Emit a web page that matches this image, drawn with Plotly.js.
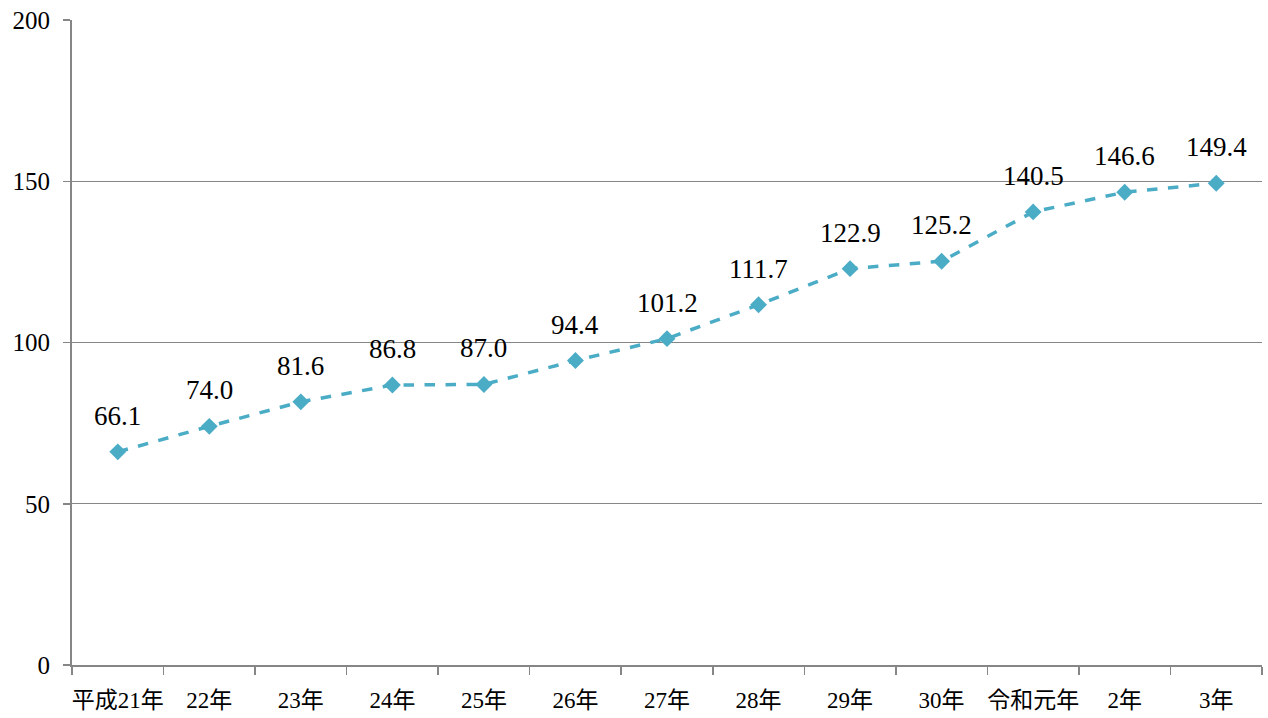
<!DOCTYPE html>
<html><head><meta charset="utf-8">
<script src="https://cdn.plot.ly/plotly-3.0.1.min.js"></script>
<style>html,body{margin:0;padding:0;background:#fff;}#chart{width:1268px;height:718px;}</style>
</head><body><div id="chart"></div>
<script>
const categories = ["平成21年","22年","23年","24年","25年","26年","27年","28年","29年","30年","令和元年","2年","3年"];
const values = [66.1,74.0,81.6,86.8,87.0,94.4,101.2,111.7,122.9,125.2,140.5,146.6,149.4];
const yTicks = [0,50,100,150,200];

const FONT = "Liberation Serif, DejaVu Serif, serif";
const FONT2 = "Liberation Serif, Noto Sans CJK JP";
const grey = "#868686";

const trace = {
  x: categories, y: values, type: "scatter", mode: "lines+markers",
  line: {color: "#4BACC6", width: 3.5, dash: "dash"},
  marker: {symbol: "diamond", size: 13, color: "#4BACC6"},
  hoverinfo: "none"
};

const annotations = categories.map((c, i) => ({
  x: c, y: values[i], xref: "x", yref: "y",
  text: values[i].toFixed(1), showarrow: false,
  yanchor: "middle", yshift: 36,
  font: {family: FONT, size: 27, color: "#000"}
}));

const layout = {
  width: 1268, height: 718,
  margin: {l: 72, r: 6, t: 20, b: 53},
  paper_bgcolor: "#fff", plot_bgcolor: "#fff",
  showlegend: false,
  xaxis: {
    type: "category", tickson: "boundaries", tickangle: 0,
    showline: true, linecolor: grey, linewidth: 2,
    ticks: "outside", ticklen: 8, tickcolor: grey, tickwidth: 1.5,
    showgrid: false, zeroline: false,
    tickfont: {family: FONT2, size: 23, color: "#000"},
    ticklabelstandoff: 13,
    range: [-0.5, 12.5]
  },
  yaxis: {
    range: [0, 200], tickvals: yTicks, ticktext: yTicks.map(String),
    showline: true, linecolor: grey, linewidth: 2,
    ticks: "outside", ticklen: 7, tickcolor: grey, tickwidth: 1.5,
    showgrid: true, gridcolor: grey, gridwidth: 1.2,
    zeroline: false,
    tickfont: {family: FONT, size: 25, color: "#000"},
    ticklabelstandoff: 8
  },
  annotations: annotations
};

Plotly.newPlot("chart", [trace], layout, {displayModeBar: false, staticPlot: true});
</script></body></html>
